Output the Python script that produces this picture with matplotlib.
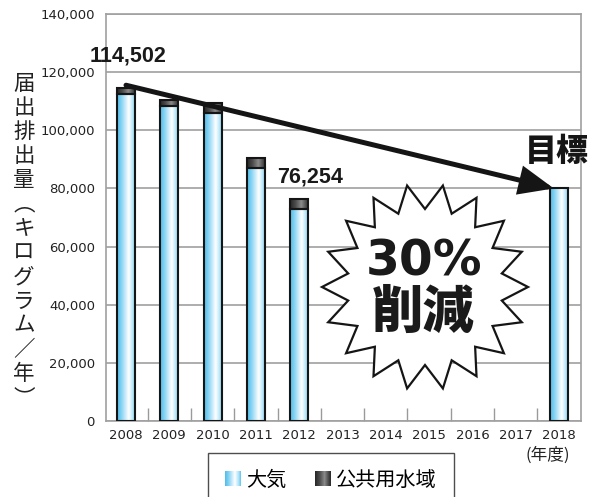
import numpy as np
import matplotlib
matplotlib.use("Agg")
import matplotlib.pyplot as plt
from matplotlib.colors import LinearSegmentedColormap
from matplotlib.patches import FancyArrowPatch, Polygon, Rectangle, Patch
from matplotlib.transforms import Affine2D, Bbox, TransformedBbox
from matplotlib.image import BboxImage
from matplotlib.legend_handler import HandlerBase

# ---------------- data ----------------
years = ['2008', '2009', '2010', '2011', '2012', '2013', '2014', '2015', '2016', '2017', '2018']
air = [112500, 108500, 106000, 87000, 73000, 0, 0, 0, 0, 0, 80000]      # 大気
water = [2002, 2000, 3500, 3300, 3254, 0, 0, 0, 0, 0, 0]                # 公共用水域
series_names = ['大気', '公共用水域']
y_ticks = [0, 20000, 40000, 60000, 80000, 100000, 120000, 140000]
ylabel_text = '届出排出量︵キログラム／年︶'
xunit_text = '(年度)'
target_text = '目標'
burst_lines = ['30%', '削減']

W, H = 598, 497
JP = ['Noto Sans CJK JP', 'DejaVu Sans']

fig = plt.figure(figsize=(W / 100, H / 100), dpi=100)
# pixel (x right, y down) -> figure transform for layout decorations
pxT = Affine2D().scale(1 / W, -1 / H).translate(0, 1) + fig.transFigure

ax = fig.add_axes([106 / W, 1 - 421 / H, (581 - 106) / W, (421 - 14) / H])

blue_cmap = LinearSegmentedColormap.from_list(
    'blue', [(0, '#4dbdeb'), (0.2, '#7ccff2'), (0.62, '#ffffff'), (0.85, '#b0e4f8'), (1, '#5fc5ee')])
dark_cmap = LinearSegmentedColormap.from_list(
    'dark', [(0, '#262626'), (0.3, '#4d4d4d'), (0.6, '#8a8a8a'), (0.85, '#4a4a4a'), (1, '#262626')])

x = np.arange(len(years))
air_a = np.array(air, dtype=float)
water_a = np.array(water, dtype=float)
mask_air = air_a > 0
mask_w = water_a > 0
bw = 0.42

bars_air = ax.bar(x[mask_air], air_a[mask_air], width=bw, facecolor='none',
                  edgecolor='#151515', linewidth=1.5, zorder=4)
bars_w = ax.bar(x[mask_w], water_a[mask_w], bottom=air_a[mask_w], width=bw,
                facecolor='none', edgecolor='#151515', linewidth=1.5, zorder=4)

grad = np.linspace(0, 1, 256)[None, :]
for bars, cmap in ((bars_air, blue_cmap), (bars_w, dark_cmap)):
    for r in bars:
        x0, y0, w, h = r.get_x(), r.get_y(), r.get_width(), r.get_height()
        ax.imshow(grad, cmap=cmap, extent=(x0, x0 + w, y0, y0 + h), aspect='auto',
                  interpolation='bilinear', zorder=3)

ax.set_xlim(-0.462, 10.508)
ax.set_ylim(0, 140000)
ax.set_yticks(y_ticks)
ax.set_yticklabels([f'{v:,}' for v in y_ticks])
ax.set_xticks(x)
ax.set_xticklabels(years)
ax.set_xticks(x[:-1] + 0.5, minor=True)
ax.tick_params(axis='y', length=0, pad=8, labelsize=9.5, labelcolor='#222222')
ax.tick_params(axis='x', which='major', length=0, pad=6, labelsize=9.5, labelcolor='#222222')
ax.tick_params(axis='x', which='minor', direction='in', length=9.5, width=1.0, color='#9a9a9a')
for lab in ax.get_xticklabels() + ax.get_yticklabels():
    lab.set_family('DejaVu Sans')
ax.yaxis.grid(True, color='#a0a0a0', linewidth=1.2)
ax.set_axisbelow(True)
for s in ax.spines.values():
    s.set_color('#a0a0a0')
    s.set_linewidth(1.2)

# value labels
tot = air_a + water_a
for i, dx, dy in ((0, 1.5, 23), (4, 8, 16)):
    ax.annotate(f'{int(tot[i]):,}', xy=(x[i], tot[i]), xytext=(dx, dy), textcoords='offset points',
                ha='center', va='center', fontsize=15.5, fontweight='bold',
                family=['Liberation Sans', 'DejaVu Sans'], color='#1a1a1a', zorder=6)

# trend arrow
arr = FancyArrowPatch((x[0], tot[0] + 1000), (x[-1] - 0.12, air_a[-1]),
                      arrowstyle='-|>,head_length=19,head_width=8', mutation_scale=1,
                      linewidth=3.6, color='#151515', shrinkA=0, shrinkB=0,
                      joinstyle='miter', zorder=7)
ax.add_patch(arr)

# starburst
cx, cy, R, r = 425, 287, 103, 78
pts = []
for k in range(18):
    a = np.deg2rad(20 * k)
    pts.append((cx + R * np.cos(a), cy - R * np.sin(a)))
    b = np.deg2rad(20 * k + 10)
    pts.append((cx + r * np.cos(b), cy - r * np.sin(b)))
star = Polygon(pts, closed=True, facecolor='white', edgecolor='#151515', linewidth=1.6,
               transform=pxT, zorder=5)
fig.add_artist(star)
fig.text(424, 261, burst_lines[0], transform=pxT, ha='center', va='center', fontsize=35,
         fontweight='bold', family=['DejaVu Sans'], color='#1a1a1a', zorder=6)
fig.text(423, 313, burst_lines[1], transform=pxT, ha='center', va='center', fontsize=37,
         fontweight='heavy', family=JP, color='#1a1a1a', zorder=6)

fig.text(557, 151, target_text, transform=pxT, ha='center', va='center', fontsize=23,
         fontweight='heavy', family=JP, color='#151515')

# y label (vertical writing)
fig.text(24, 241, '\n'.join(ylabel_text), transform=pxT, ha='center', va='center',
         fontsize=15.5, family=JP, color='#222222', linespacing=1.13)

fig.text(548, 455, xunit_text, transform=pxT, ha='center', va='center', fontsize=12,
         family=JP, color='#222222')


# legend with gradient squares
class GradHandler(HandlerBase):
    def __init__(self, cmap):
        super().__init__()
        self.cmap = cmap

    def create_artists(self, legend, orig_handle, xdescent, ydescent, width, height, fontsize, trans):
        bb = Bbox.from_bounds(-xdescent, -ydescent, width, height)
        img = BboxImage(TransformedBbox(bb, trans), cmap=self.cmap, interpolation='bilinear')
        img.set_data(grad)
        rect = Rectangle((-xdescent, -ydescent), width, height, fill=False,
                         edgecolor='none', transform=trans)
        return [img, rect]


h1 = Patch(facecolor='#86d4f3')
h2 = Patch(facecolor='#4d4d4d')
leg = fig.legend([h1, h2], series_names, loc='upper left',
                 bbox_to_anchor=(208 / W, 1 - 453 / H), bbox_transform=fig.transFigure,
                 borderaxespad=0,
                 ncol=2, frameon=True, fancybox=False, prop={'family': JP, 'size': 14.5},
                 handlelength=0.75, handleheight=0.75, handletextpad=0.3, columnspacing=1.4,
                 borderpad=0.85,
                 handler_map={h1: GradHandler(blue_cmap), h2: GradHandler(dark_cmap)})
leg.get_frame().set_edgecolor('#222222')
leg.get_frame().set_linewidth(1.0)

fig.savefig('out.png', dpi=100)
